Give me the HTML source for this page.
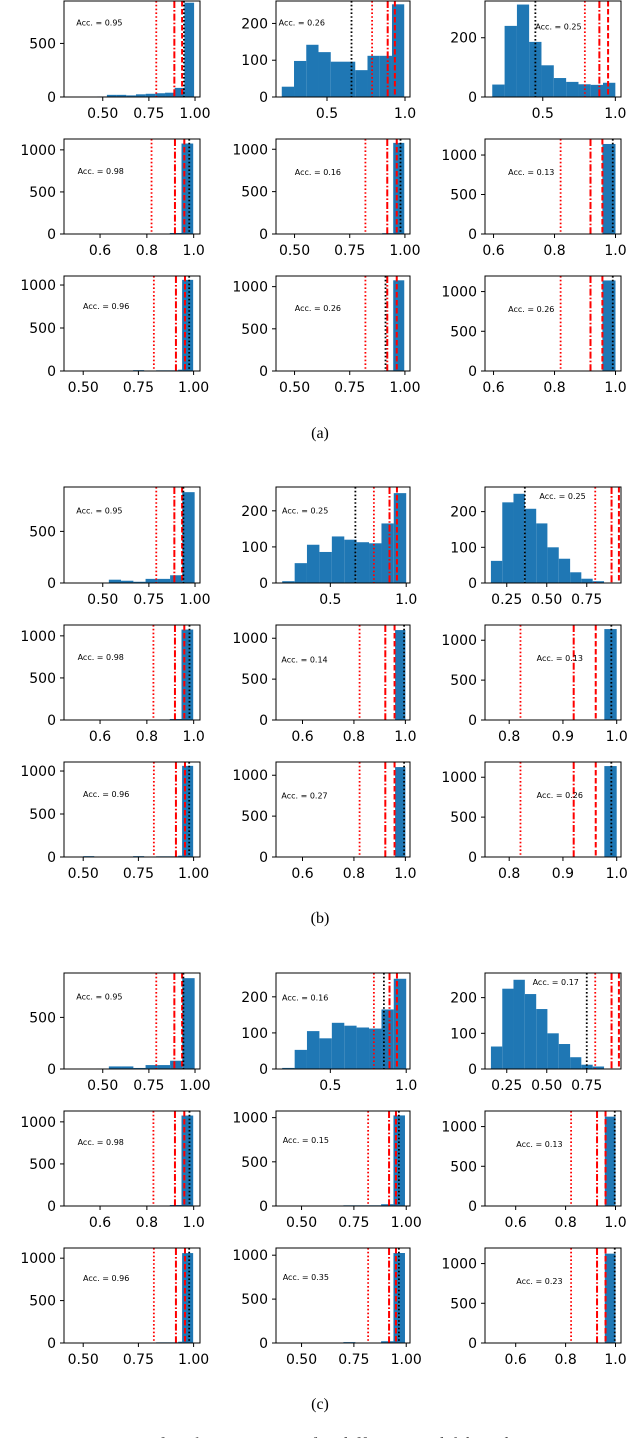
<!DOCTYPE html>
<html><head><meta charset="utf-8">
<style>
html,body{margin:0;padding:0;background:#fff;}
svg{display:block;}
text{font-family:"DejaVu Sans","Liberation Sans",sans-serif;}
</style></head>
<body>
<svg id="fig" width="640" height="1438" viewBox="0 0 640 1438" xmlns="http://www.w3.org/2000/svg">
<text x="320" y="438" text-anchor="middle" style="font-family:'Liberation Serif',serif;font-size:16px">(a)</text>
<text x="320" y="923" text-anchor="middle" style="font-family:'Liberation Serif',serif;font-size:16px">(b)</text>
<text x="320" y="1409" text-anchor="middle" style="font-family:'Liberation Serif',serif;font-size:16px">(c)</text>
<text x="0" y="1449" style="font-family:'Liberation Serif',serif;font-size:17px;fill:#444;letter-spacing:1px">Fig. 3: Importance of ranking measures for different model-based</text>
</svg>
<script>
const panelIds = ["a11","a12","a13","a21","a22","a23","a31","a32","a33","b11","b12","b13","b21","b22","b23","b31","b32","b33","c11","c12","c13","c21","c22","c23","c31","c32","c33"];
const panelXLim = [[0.29,1.027],[0.173,1.032],[0.102,1.039],[0.446,1.027],[0.416,1.023],[0.572,1.018],[0.413,1.029],[0.416,1.023],[0.572,1.018],
[0.29,1.027],[0.142,1.025],[0.114,0.964],[0.446,1.027],[0.497,1.018],[0.755,1.008],[0.413,1.029],[0.497,1.018],[0.755,1.008],
[0.29,1.027],[0.142,1.025],[0.114,0.964],[0.446,1.027],[0.378,1.018],[0.477,1.022],[0.413,1.029],[0.378,1.018],[0.477,1.022]];
const panelYMax = [896,261,324,1129,1121,1203,1105,1126,1196, 930,266,269,1129,1162,1191,1105,1162,1191, 930,266,269,1129,1075,1196,1120,1082,1196];
const T2 = ["0.50","0.75","1.00"], T1 = ["0.5","1.0"], T6 = ["0.6","0.8","1.0"], T25 = ["0.25","0.50","0.75"], T8 = ["0.8","0.9","1.0"];
const panelXTicks = [T2,T1,T1,T6,T2,T6,T2,T2,T6, T2,T1,T25,T6,T6,T8,T2,T6,T8, T2,T1,T25,T6,T2,T6,T2,T2,T6];
const Y5 = [0,500], Y2 = [0,100,200], Y20 = [0,200], Y10 = [0,500,1000];
const panelYTicks = [Y5,Y2,Y20,Y10,Y10,Y10,Y10,Y10,Y10, Y5,Y2,Y2,Y10,Y10,Y10,Y10,Y10,Y10, Y5,Y2,Y2,Y10,Y10,Y10,Y10,Y10,Y10];
const E12 = [0.183,0.265,0.346,0.428,0.51,0.592,0.673,0.755,0.837,0.918,1.0];
const E13 = [0.151,0.222,0.292,0.363,0.434,0.504,0.575,0.646,0.716,0.787,0.858];
const panelEdges = [
[0.47,0.5225,0.575,0.6275,0.68,0.7325,0.785,0.8375,0.89,0.9425,0.995],
[0.21,0.2885,0.367,0.4455,0.524,0.6025,0.681,0.7595,0.838,0.9165,0.995],
[0.152,0.237,0.322,0.406,0.491,0.576,0.661,0.746,0.830,0.915,1.0],
[0.898,0.948,0.998],[0.897,0.947,0.997],[0.957,1.0],
[0.726,0.776,0.83,0.88,0.93,0.948,0.998],[0.905,0.947,0.997],[0.957,1.0],
[0.533,0.599,0.666,0.732,0.799,0.865,0.931,0.998],E12,E13,
[0.898,0.948,0.998],[0.96,1.0],[0.977,1.0],
[0.5,0.55,0.726,0.776,0.83,0.88,0.93,0.948,0.998],[0.96,1.0],[0.977,1.0],
[0.466,0.533,0.599,0.666,0.732,0.799,0.865,0.931,0.998],E12,E13,
[0.898,0.948,0.998],[0.7,0.822,0.88,0.939,0.994],[0.957,1.0],
[0.83,0.88,0.93,0.948,0.998],[0.7,0.757,0.88,0.939,0.994],[0.957,1.0]];
const panelHeights = [
[5,20,20,15,25,30,35,40,85,880],[28,98,142,122,96,96,73,112,112,252],[42,240,312,186,107,64,51,43,41,48],
[12,1075],[10,1075],[1140],[10,0,8,8,15,1060],[8,1075],[1140],
[32,22,12,40,40,75,880],[5,55,106,86,129,120,113,110,165,249],[62,226,250,208,167,100,68,30,12,5],
[12,1075],[1100],[1140],[10,0,10,0,8,8,15,1060],[1100],[1140],
[5,25,25,10,38,38,80,880],[3,53,105,85,128,120,115,112,165,250],[63,225,250,210,168,100,70,33,12,7],
[12,1075],[8,8,20,1025],[1125],[8,8,15,1060],[10,0,20,1025],[1125]];
// threshold lines: [red dotted, red dash-dot, red dashed, black dotted]
const panelLines = [
[0.79,0.888,0.93,0.94],[0.789,0.889,0.935,0.657],[0.79,0.89,0.95,0.449],
[0.82,0.92,0.96,0.981],[0.821,0.92,0.963,0.98],[0.82,0.918,0.957,0.991],
[0.82,0.92,0.961,0.98],[0.821,0.92,0.963,0.912],[0.82,0.918,0.957,0.991],
[0.79,0.888,0.93,0.937],[0.787,0.89,0.939,0.665],[0.803,0.905,0.951,0.363],
[0.828,0.92,0.96,0.982],[0.822,0.922,0.958,0.995],[0.821,0.92,0.961,0.99],
[0.82,0.92,0.961,0.98],[0.822,0.922,0.958,0.995],[0.821,0.92,0.961,0.99],
[0.79,0.888,0.93,0.937],[0.787,0.89,0.939,0.853],[0.803,0.905,0.951,0.75],
[0.828,0.92,0.96,0.982],[0.818,0.918,0.951,0.965],[0.822,0.926,0.96,0.997],
[0.82,0.92,0.961,0.98],[0.818,0.918,0.951,0.965],[0.822,0.926,0.96,0.997]];
const panelAcc = ["0.95","0.26","0.25","0.98","0.16","0.13","0.96","0.26","0.26",
"0.95","0.25","0.25","0.98","0.14","0.13","0.96","0.27","0.26",
"0.95","0.16","0.17","0.98","0.15","0.13","0.96","0.35","0.23"];
const panelAccPos = [[0.09,0.23],[0.02,0.23],[0.37,0.27],[0.1,0.34],[0.14,0.35],[0.17,0.35],[0.14,0.32],[0.14,0.34],[0.17,0.35],
[0.09,0.25],[0.045,0.25],[0.4,0.1],[0.1,0.34],[0.04,0.37],[0.38,0.35],[0.14,0.34],[0.04,0.36],[0.38,0.35],
[0.09,0.25],[0.045,0.26],[0.35,0.1],[0.1,0.33],[0.05,0.31],[0.23,0.35],[0.14,0.32],[0.05,0.31],[0.23,0.35]];

const NS = "http://www.w3.org/2000/svg";
const svg = document.getElementById("fig");
const colX = [[64,200],[276,410],[485,621]];
const rowY = [[1,97],[139,234],[276,371]];
const groupOff = [0,486,972];
const lineStyles = [
  {c:"#ff0000", d:"1.6,2.2", w:1.8},
  {c:"#ff0000", d:"7,2,1.6,2", w:2},
  {c:"#ff0000", d:"5.5,2.5", w:2},
  {c:"#000000", d:"1.6,2.2", w:1.8}];
const lineNames = ["red-dotted-threshold","red-dashdot-threshold","red-dashed-threshold","black-dotted-threshold"];
function mk(tag, attrs, parent){
  const e = document.createElementNS(NS, tag);
  for (const k in attrs) e.setAttribute(k, attrs[k]);
  parent.appendChild(e); return e;
}
panelIds.forEach((id, i) => {
  const g = Math.floor(i/9), r = Math.floor((i%9)/3), c = i%3;
  const x0 = colX[c][0], x1 = colX[c][1];
  const y0 = rowY[r][0] + groupOff[g], y1 = rowY[r][1] + groupOff[g];
  const [xa, xb] = panelXLim[i];
  const ym = panelYMax[i];
  const sx = v => x0 + (v - xa) / (xb - xa) * (x1 - x0);
  const sy = v => y1 - v / ym * (y1 - y0);
  const grp = mk("g", {}, svg);
  
  
  const clipId = "clip" + id;
  const cp = mk("clipPath", {id: clipId}, grp);
  mk("rect", {x:x0, y:y0, width:x1-x0, height:y1-y0}, cp);
  const plot = mk("g", {"clip-path":"url(#"+clipId+")"}, grp);
  const edges = panelEdges[i], hs = panelHeights[i];
  hs.forEach((h, k) => {
    if (h <= 0) return;
    const bx = sx(edges[k]), bx2 = sx(edges[k+1]);
    const b = mk("rect", {x:bx, y:sy(h), width:Math.max(bx2-bx,0.5), height:y1-sy(h), fill:"#1f77b4"}, plot);
    
    
  });
  panelLines[i].forEach((v, k) => {
    const s = lineStyles[k];
    const l = mk("line", {x1:sx(v), x2:sx(v), y1:y0, y2:y1, stroke:s.c, "stroke-width":s.w, "stroke-dasharray":s.d}, plot);
    
    
  });
  const t = mk("text", {x: x0 + panelAccPos[i][0]*(x1-x0), y: y0 + panelAccPos[i][1]*(y1-y0), "font-size":"8", "dominant-baseline":"middle"}, grp);
  t.textContent = "Acc. = " + panelAcc[i];
  
  
  const fr = mk("rect", {x:x0, y:y0, width:x1-x0, height:y1-y0, fill:"none", stroke:"#000", "stroke-width":1}, grp);
  
  
  panelXTicks[i].forEach(lbl => {
    const px = sx(parseFloat(lbl));
    mk("line", {x1:px, x2:px, y1:y1, y2:y1+4, stroke:"#000", "stroke-width":1}, grp);
    const tx = mk("text", {x:px, y:y1+21, "font-size":"14", "text-anchor":"middle"}, grp);
    tx.textContent = lbl;
    
    
  });
  panelYTicks[i].forEach(v => {
    const py = sy(v);
    mk("line", {x1:x0-4, x2:x0, y1:py, y2:py, stroke:"#000", "stroke-width":1}, grp);
    const ty = mk("text", {x:x0-8, y:py+5, "font-size":"14", "text-anchor":"end"}, grp);
    ty.textContent = String(v);
    
    
  });
});
</script>
</body></html>
